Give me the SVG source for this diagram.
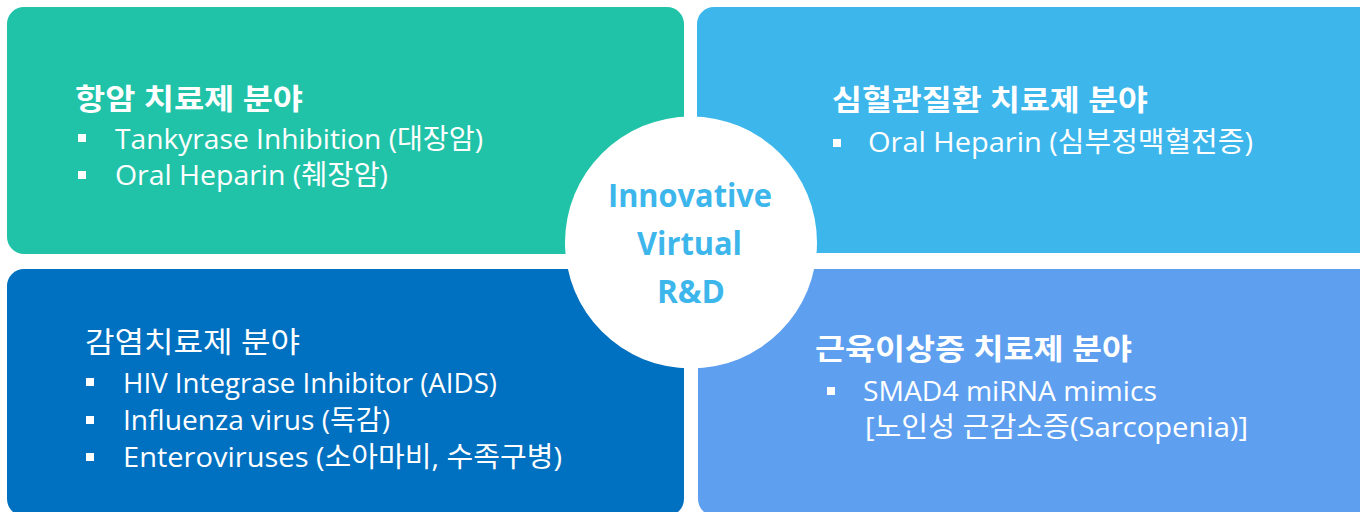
<svg xmlns="http://www.w3.org/2000/svg" width="1360" height="512" viewBox="0 0 1360 512">
<style>
.t{font-family:'Open Sans','Noto Sans CJK KR',sans-serif;fill:#fff}
.h{font-size:29px;font-weight:700}
.hr{font-size:29px;font-weight:400}
.b{font-size:28px;font-weight:400}
.c{font-family:'Open Sans','Noto Sans CJK KR',sans-serif;font-size:33px;font-weight:700;fill:#3DB6EC}
.sq{fill:#fff}
</style>
<rect width="1360" height="512" fill="#fff"/>
<g id="node-oncology">
<rect x="7" y="7" width="677" height="247" rx="17" fill="#21C3A8"/>
<text class="t h" x="75" y="110" textLength="228" lengthAdjust="spacingAndGlyphs">항암 치료제 분야</text>
<rect class="sq" x="78" y="134" width="8" height="8"/>
<text class="t b" x="115" y="149" textLength="368" lengthAdjust="spacingAndGlyphs">Tankyrase Inhibition (대장암)</text>
<rect class="sq" x="78" y="171" width="8" height="8"/>
<text class="t b" x="115" y="185" textLength="273" lengthAdjust="spacingAndGlyphs">Oral Heparin (췌장암)</text>
</g>
<g id="node-cardio">
<rect x="697" y="7" width="680" height="246" rx="17" fill="#3DB6EC"/>
<text class="t h" x="832" y="111" textLength="316" lengthAdjust="spacingAndGlyphs">심혈관질환 치료제 분야</text>
<rect class="sq" x="833" y="139" width="8" height="8"/>
<text class="t b" x="868" y="152" textLength="385" lengthAdjust="spacingAndGlyphs">Oral Heparin (심부정맥혈전증)</text>
</g>
<g id="node-infection">
<rect x="7" y="269" width="677" height="247" rx="17" fill="#0070C0"/>
<text class="t hr" x="85" y="353" textLength="215" lengthAdjust="spacingAndGlyphs">감염치료제 분야</text>
<rect class="sq" x="86" y="378" width="8" height="8"/>
<text class="t b" x="123" y="393" textLength="374" lengthAdjust="spacingAndGlyphs">HIV Integrase Inhibitor (AIDS)</text>
<rect class="sq" x="86" y="416" width="8" height="8"/>
<text class="t b" x="123" y="430" textLength="267" lengthAdjust="spacingAndGlyphs">Influenza virus (독감)</text>
<rect class="sq" x="86" y="453" width="8" height="8"/>
<text class="t b" x="123" y="467" textLength="439" lengthAdjust="spacingAndGlyphs">Enteroviruses (소아마비, 수족구병)</text>
</g>
<g id="node-muscle">
<rect x="698" y="269" width="679" height="247" rx="17" fill="#5E9FF0"/>
<text class="t h" x="815" y="360" textLength="317" lengthAdjust="spacingAndGlyphs">근육이상증 치료제 분야</text>
<rect class="sq" x="827" y="387" width="8" height="8"/>
<text class="t b" x="863" y="401" textLength="294" lengthAdjust="spacingAndGlyphs">SMAD4 miRNA mimics</text>
<text class="t b" x="865" y="437" textLength="383" lengthAdjust="spacingAndGlyphs">[노인성 근감소증(Sarcopenia)]</text>
</g>
<g id="node-center">
<circle cx="691" cy="242.5" r="126" fill="#fff"/>
<text class="c" x="608" y="207" textLength="164" lengthAdjust="spacingAndGlyphs">Innovative</text>
<text class="c" x="637" y="255" textLength="105" lengthAdjust="spacingAndGlyphs">Virtual</text>
<text class="c" x="657" y="303" textLength="68" lengthAdjust="spacingAndGlyphs">R&amp;D</text>
</g>
<g id="connectors"/>
</svg>
